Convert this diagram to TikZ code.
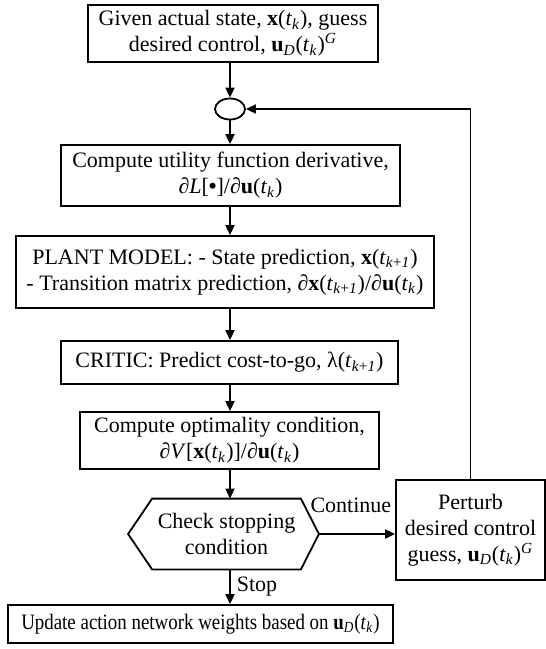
\documentclass[tikz,border=0pt]{standalone}
\usepackage{fontspec}
\setmainfont{Liberation Serif}
\newfontfamily\narrowserif[FakeStretch=0.86]{Liberation Serif}
\usetikzlibrary{shapes.geometric, arrows.meta, positioning, calc}

% shorthands for the vector notation
\newcommand{\vx}{\textbf{x}}
\newcommand{\vu}{\textbf{u}}
\newcommand{\atk}{(\textit{t}\textsubscript{\textit{k}})}
\newcommand{\atkk}{(\textit{t}\textsubscript{\textit{k}+\textit{1}})}
\newcommand{\uguess}{\vu\textsubscript{\textit{D}}\atk\textsuperscript{\textit{G}}}

\tikzset{
    box/.style={draw, line width=0.9pt, align=center, inner sep=1pt,
        font=\fontsize{11}{13}\selectfont},
    arr/.style={-{Triangle[length=5pt, width=4.5pt]}, line width=0.9pt},
    tag/.style={font=\fontsize{11}{13}\selectfont, inner sep=1pt},
}

\begin{document}
\begin{tikzpicture}[x=0.5pt, y=-0.5pt]
    \useasboundingbox (0,0) rectangle (546,649);

    % main column
    \node[box, minimum width=145pt, minimum height=28.5pt] (given) at (233,33.5)
        {Given actual state, \vx\atk, guess\\desired control, \uguess};
    \node[draw, ellipse, line width=0.9pt, minimum width=15pt, minimum height=10.5pt,
        inner sep=0pt] (junc) at (230,109) {};
    \node[box, minimum width=169.5pt, minimum height=30.5pt] (util) at (230.5,175.5)
        {Compute utility function derivative,\\∂\textit{L}[\textbf{\textbullet}]/∂\vu\atk};
    \node[box, minimum width=209pt, minimum height=36pt] (plant) at (225,272)
        {PLANT MODEL: - State prediction, \vx\atkk\\- Transition matrix prediction, ∂\vx\atkk/∂\vu\atk};
    \node[box, minimum width=168.5pt, minimum height=21.5pt] (critic) at (229.5,362.5)
        {CRITIC: Predict cost-to-go, λ\atkk};
    \node[box, minimum width=149.5pt, minimum height=28.5pt] (optim) at (229.5,440.5)
        {Compute optimality condition,\\∂\textit{V}[\vx\atk]/∂\vu\atk};

    % stopping test, hexagon drawn round the text node
    \node[box, draw=none, minimum width=73.5pt, minimum height=34.5pt] (check) at (226.5,534)
        {Check stopping\\condition};
    \draw[line width=0.9pt] (check.north west) -- (check.north east) -- ($(check.east)+(18,0)$)
        -- (check.south east) -- (check.south west) -- ($(check.west)+(-24,0)$) -- cycle;
    \coordinate (checkout) at ($(check.east)+(18,0)$);

    \node[box, minimum width=74.5pt, minimum height=50pt] (perturb) at (470.5,530)
        {Perturb\\desired control\\guess, \uguess};
    \node[box, minimum width=192.5pt, minimum height=19pt,
        font=\narrowserif\fontsize{11}{13}\selectfont] (update) at (200.5,624)
        {Update action network weights based on \vu\textsubscript{\textit{D}}\atk};

    % connectors
    \draw[arr] (junc.north |- given.south) -- (junc.north);
    \draw[arr] (junc.south) -- (junc.south |- util.north);
    \draw[arr] (junc.south |- util.south) -- (junc.south |- plant.north);
    \draw[arr] (junc.south |- plant.south) -- (junc.south |- critic.north);
    \draw[arr] (junc.south |- critic.south) -- (junc.south |- optim.north);
    \draw[arr] (junc.south |- optim.south) -- (junc.south |- check.north);
    \draw[arr] (junc.south |- check.south) -- (junc.south |- update.north)
        node[midway, right=2pt, tag] {Stop};
    \draw[arr] (checkout) -- (checkout -| perturb.west)
        node[pos=0.42, above=9pt, tag] {Continue};
    \draw[arr] (perturb.north) |- (junc.east);
\end{tikzpicture}
\end{document}
